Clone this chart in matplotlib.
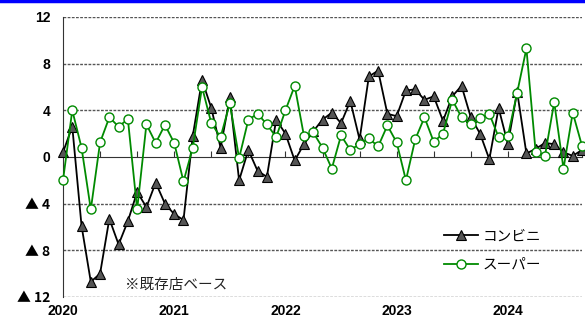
import matplotlib.pyplot as plt
from matplotlib.lines import Line2D

# 前年同月比（%）、2020年1月〜2024年9月
months = list(range(57))
konbini = [0.4, 2.6, -5.9, -10.7, -10.0, -5.3, -7.5, -5.5, -3.0, -4.3,
           -2.2, -4.0, -4.9, -5.4, 1.8, 6.6, 4.2, 0.8, 5.1, -2.0,
           0.6, -1.2, -1.7, 3.2, 2.0, -0.3, 1.1, 2.2, 3.2, 3.8,
           2.9, 4.8, 1.5, 6.9, 7.4, 3.7, 3.5, 5.7, 5.8, 4.9,
           5.2, 3.1, 5.2, 6.1, 3.4, 2.0, -0.2, 4.2, 1.1, 5.6,
           0.3, 0.7, 1.2, 1.1, 0.4, 0.1, 0.6]
super_ = [-2.0, 4.0, 0.8, -4.5, 1.25, 3.4, 2.6, 3.25, -4.5, 2.8,
          1.2, 2.75, 1.2, -2.1, 0.8, 6.0, 2.9, 1.7, 4.6, -0.1,
          3.2, 3.7, 2.8, 1.7, 4.0, 6.1, 1.8, 2.1, 0.8, -1.0,
          1.85, 0.6, 1.1, 1.6, 0.9, 2.7, 1.25, -2.0, 1.5, 3.4,
          1.3, 2.0, 4.9, 3.4, 2.8, 3.3, 3.7, 1.7, 1.8, 5.5,
          9.3, 0.4, 0.1, 4.7, -1.0, 3.8, 0.95]
year_pos = [0, 12, 24, 36, 48]
year_labels = ['2020', '2021', '2022', '2023', '2024']
y_ticks = [12, 8, 4, 0, -4, -8, -12]
y_labels = ['12', '8', '4', '0', '▲ 4', '▲ 8', '▲ 12']

num_font = ['Liberation Sans', 'DejaVu Sans']
jp_font = ['Noto Sans CJK JP', 'DejaVu Sans']

fig = plt.figure(figsize=(5.85, 3.2), dpi=100)
ax = fig.add_axes([0.1077, 0.0719, 0.9949 - 0.1077, 0.9469 - 0.0719])

# 上端の青い罫線
fig.add_artist(Line2D([0, 1], [0.997, 0.997], transform=fig.transFigure,
                      color='#0000ff', lw=2.5))

ax.plot(months, konbini, color='black', lw=1.3, marker='^', ms=6.5,
        mfc='#555555', mec='black', mew=0.8, label='コンビニ',
        clip_on=False, zorder=3)
ax.plot(months, super_, color='#008a00', lw=1.3, marker='o', ms=6.5,
        mfc='white', mec='#008a00', mew=1.0, label='スーパー',
        clip_on=False, zorder=4)

ax.set_xlim(0, 56)
ax.set_ylim(-12, 12)

for y in [12, 8, 4, -4, -8, -12]:
    ax.axhline(y, color='#555555', lw=1.0, ls=(0, (2, 1)), zorder=1)

for s in ['top', 'right']:
    ax.spines[s].set_visible(False)
ax.spines['left'].set_color('#333333')
ax.spines['bottom'].set_position(('data', 0))
ax.spines['bottom'].set_color('#333333')

ax.set_xticks(range(0, 57, 4))
ax.tick_params(axis='x', direction='in', length=4, color='#333333',
               labelbottom=False)

sec = ax.secondary_xaxis('bottom')
sec.set_xticks(year_pos, year_labels)
sec.tick_params(length=0, pad=5)
sec.spines['bottom'].set_visible(False)
for t in sec.get_xticklabels():
    t.set_family(num_font)
    t.set_fontweight('bold')
    t.set_fontsize(10)

ax.set_yticks(y_ticks, y_labels)
ax.tick_params(axis='y', length=0, pad=9)
for t in ax.get_yticklabels():
    # マイナス側の ▲ は全角の大きいグリフにする
    t.set_family(jp_font if '▲' in t.get_text() else num_font)
    t.set_fontweight('bold')
    t.set_fontsize(10)

ax.text(0.119, 0.043, '※既存店ベース', transform=ax.transAxes,
        family=jp_font, fontsize=10.5, color='#222222', va='center')

leg = ax.legend(loc='upper left', bbox_to_anchor=(0.734, 0.242),
                borderaxespad=0, borderpad=0, frameon=False,
                prop={'family': jp_font, 'size': 10.5}, handlelength=2.3,
                handletextpad=0.35, labelspacing=1.0)

fig.savefig('out.png', dpi=100)
